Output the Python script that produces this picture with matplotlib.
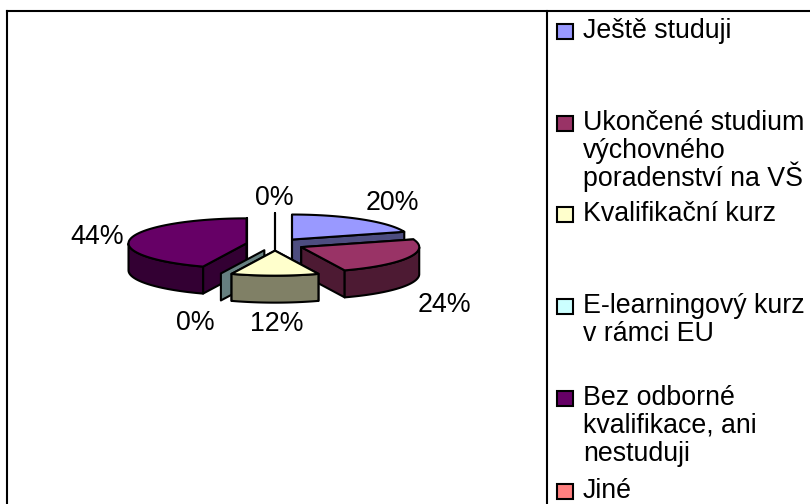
import numpy as np
import matplotlib
matplotlib.use('Agg')
import matplotlib.pyplot as plt
from matplotlib.patches import Polygon, Rectangle

plt.rcParams['font.family'] = ['Liberation Sans', 'DejaVu Sans']

# Data
categories = ['Ještě studuji', 'Ukončené studium\nvýchovného\nporadenství na VŠ', 'Kvalifikační kurz',
              'E-learningový kurz\nv rámci EU', 'Bez odborné\nkvalifikace, ani\nnestuduji', 'Jiné']
values = [20, 24, 12, 0, 44, 0]
top_cols = ['#9999ff', '#993366', '#ffffcc', '#ccffff', '#660066', '#ff8080']
side_cols = ['#4d4d80', '#4d1a33', '#808066', '#668080', '#330033', '#804040']

# Label and legend placement (pixels)
label_xy = [(392, 202.5), (444, 304.5), (277, 324), (195, 323.5), (97, 237.5), (274, 198)]
legend_y = [31.5, 123.5, 214.5, 306.5, 398.5, 491]

# Pie geometry (pixels)
cx, cy = 275, 244.5
rx, ry = 118, 25
explode = 29
depth = 27
lw = 1.5
fs = 19.3

fig = plt.figure(figsize=(8.1, 5.04), dpi=100)
ax = fig.add_axes([0, 0, 1, 1])
ax.set_xlim(0, 810)
ax.set_ylim(504, 0)
ax.axis('off')

# Slice angles, clockwise from 12 o'clock
fr = np.cumsum([0] + values) / sum(values) * 2 * np.pi
starts, ends = fr[:-1], fr[1:]


def pt(a, ox, oy, r=1.0):
    return ox + r * rx * np.sin(a), oy - r * ry * np.cos(a)


def draw_slice(i):
    a0, a1 = starts[i], ends[i]
    mid = (a0 + a1) / 2
    ox = cx + explode * np.sin(mid)
    oy = cy - explode * (ry / rx) * np.cos(mid)
    ang = np.linspace(a0, a1, 80)
    xs, ys = pt(ang, ox, oy)
    arc = np.column_stack([xs, ys])
    apex = np.array([ox, oy])
    down = np.array([0, depth])
    kw = dict(closed=True, ec='black', lw=lw, joinstyle='round')

    # zero slices show only their cut wall
    if a1 - a0 < 1e-6:
        p = arc[0]
        ax.add_patch(Polygon([apex, p, p + down, apex + down], fc=side_cols[i], **kw))
        return

    # radial walls, then the rim
    for p in (arc[0], arc[-1]):
        ax.add_patch(Polygon([apex, p, p + down, apex + down], fc=side_cols[i], **kw))
    front = np.cos(ang) < 0
    if front.any():
        rim = arc[front]
        ax.add_patch(Polygon(np.vstack([rim, (rim + down)[::-1]]), fc=side_cols[i], **kw))
    ax.add_patch(Polygon(np.vstack([apex, arc]), fc=top_cols[i], **kw))


for i in [5, 0, 4, 1, 3, 2]:
    draw_slice(i)

# Data labels
for v, (x, y) in zip(values, label_xy):
    ax.text(x, y, f'{v}%', ha='center', va='center', fontsize=fs, color='black')

# Frame and legend separator
ax.plot([7, 7], [504, 11], color='black', lw=1.5, clip_on=False)
ax.plot([7, 810], [11, 11], color='black', lw=1.5, clip_on=False)
ax.plot([547, 547], [11, 504], color='black', lw=1.5, clip_on=False)

# Legend, one text per line so the line pitch stays even
for name, col, y in zip(categories, top_cols, legend_y):
    ax.add_patch(Rectangle((556.5, y - 7.5), 16, 15, fc=col, ec='black', lw=1.5))
    for j, line in enumerate(name.split('\n')):
        ax.text(583, y + 6.5 + j * 28, line, ha='left', va='baseline', fontsize=fs, color='black')

fig.savefig('out.png', dpi=100)
